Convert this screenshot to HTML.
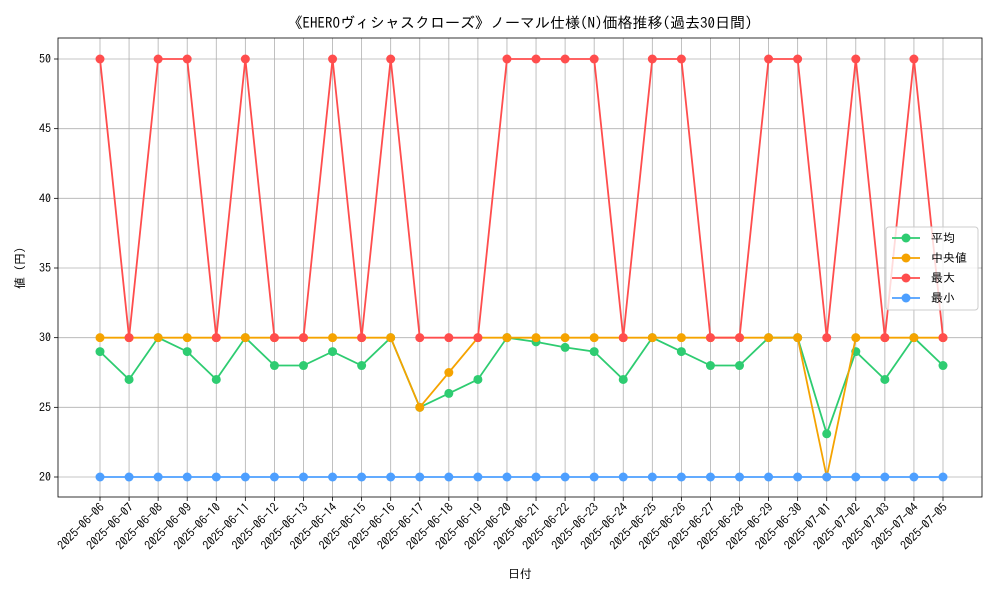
<!DOCTYPE html>
<html><head><meta charset="utf-8"><style>
body{margin:0;background:#fff;width:1000px;height:600px;overflow:hidden}
svg text{font-family:"IPAGothic","Noto Sans CJK JP",sans-serif;fill:#000}
</style></head><body>
<svg id="chart" width="1000" height="600" xmlns="http://www.w3.org/2000/svg">
<text x="520" y="28" font-size="15" text-anchor="middle">《EHEROヴィシャスクローズ》ノーマル仕様(N)価格推移(過去30日間)</text>
<g id="grid"></g><g id="axes"></g><g id="series"></g>
<text x="520" y="578" font-size="12" text-anchor="middle">日付</text>
<text x="24" y="268" font-size="12" text-anchor="middle" transform="rotate(-90 24 268)">値 (円)</text>
<g id="legend"></g>
</svg>
<script>
const dates=["2025-06-06","2025-06-07","2025-06-08","2025-06-09","2025-06-10","2025-06-11","2025-06-12","2025-06-13","2025-06-14","2025-06-15","2025-06-16","2025-06-17","2025-06-18","2025-06-19","2025-06-20","2025-06-21","2025-06-22","2025-06-23","2025-06-24","2025-06-25","2025-06-26","2025-06-27","2025-06-28","2025-06-29","2025-06-30","2025-07-01","2025-07-02","2025-07-03","2025-07-04","2025-07-05"];
const avgValues=[29,27,30,29,27,30,28,28,29,28,30,25,26,27,30,29.7,29.3,29,27,30,29,28,28,30,30,23.1,29,27,30,28];
const medianValues=[30,30,30,30,30,30,30,30,30,30,30,25,27.5,30,30,30,30,30,30,30,30,30,30,30,30,20,30,30,30,30];
const maxValues=[50,30,50,50,30,50,30,30,50,30,50,30,30,30,50,50,50,50,30,50,50,30,30,50,50,30,50,30,50,30];
const minValues=[20,20,20,20,20,20,20,20,20,20,20,20,20,20,20,20,20,20,20,20,20,20,20,20,20,20,20,20,20,20];
const yTicks=[20,25,30,35,40,45,50];
const L=58,R=982,T=38,B=497;
const x=i=>100+i*(943-100)/(dates.length-1);
const y=v=>477-(v-20)*(477-59)/30;
const NS="http://www.w3.org/2000/svg";
function mk(tag,attrs,parent){const e=document.createElementNS(NS,tag);for(const k in attrs)e.setAttribute(k,attrs[k]);parent.appendChild(e);return e;}
const grid=document.getElementById('grid'),axes=document.getElementById('axes'),ser=document.getElementById('series'),leg=document.getElementById('legend');
dates.forEach((d,i)=>{
 const g=mk('line',{x1:x(i),x2:x(i),y1:T,y2:B,stroke:'#b0b0b0','stroke-width':0.8},grid);
 
 mk('line',{x1:x(i),x2:x(i),y1:B,y2:B+4,stroke:'#000','stroke-width':0.8},axes);
 const t=mk('text',{x:x(i)+5,y:B+11,'font-size':12,'text-anchor':'end',transform:`rotate(-45 ${x(i)+5} ${B+11})`},axes);
 t.textContent=d;
});
yTicks.forEach(v=>{
 const g=mk('line',{x1:L,x2:R,y1:y(v),y2:y(v),stroke:'#b0b0b0','stroke-width':0.8},grid);
 
 mk('line',{x1:L-4,x2:L,y1:y(v),y2:y(v),stroke:'#000','stroke-width':0.8},axes);
 const t=mk('text',{x:L-7,y:y(v)+4,'font-size':12,'text-anchor':'end'},axes);
 t.textContent=v;
});
const frame=mk('rect',{x:L,y:T,width:R-L,height:B-T,fill:'none',stroke:'#000','stroke-width':0.8},axes);

const series=[["average",avgValues,"#2ecc71","平均"],["median",medianValues,"#f5a300","中央値"],["max",maxValues,"#ff4d4d","最大"],["min",minValues,"#4d9fff","最小"]];
series.forEach(([n,vals,c])=>{
 const p=mk('polyline',{points:vals.map((v,i)=>x(i)+','+y(v)).join(' '),fill:'none',stroke:c,'stroke-width':1.8},ser);
 
 vals.forEach((v,i)=>{const m=mk('circle',{cx:x(i),cy:y(v),r:4.5,fill:c},ser);
  });
});
const lb=mk('rect',{x:886,y:227,width:92,height:83,rx:3,fill:'#fff','fill-opacity':0.8,stroke:'#ccc'},leg);

series.forEach(([n,vals,c,lab],k)=>{
 const yy=238+k*20;
 const g=mk('g',{},leg);
 mk('line',{x1:892,x2:920,y1:yy,y2:yy,stroke:c,'stroke-width':1.8},g);
 mk('circle',{cx:906,cy:yy,r:4.5,fill:c},g);
 const t=mk('text',{x:931,y:yy+4,'font-size':12},g);t.textContent=lab;
});
</script>
</body></html>
